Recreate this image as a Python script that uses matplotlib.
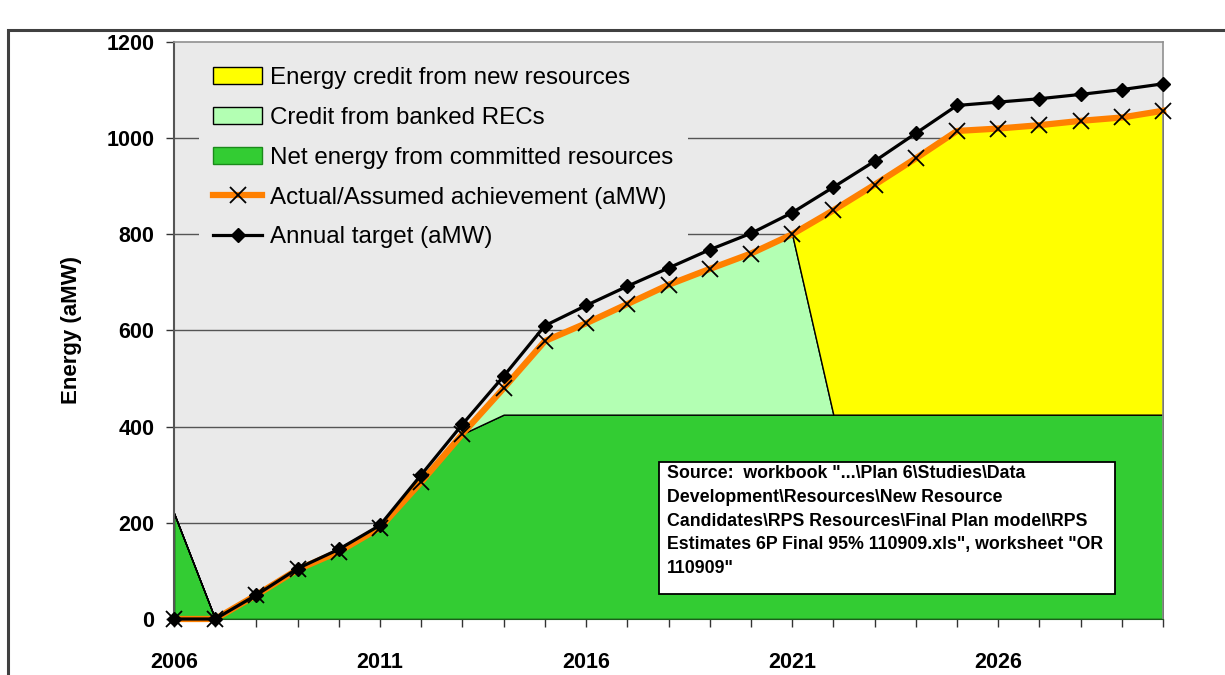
import numpy as np
import matplotlib.pyplot as plt
from matplotlib.patches import Patch, Rectangle
from matplotlib.lines import Line2D

plt.rcParams['font.family'] = ['Liberation Sans', 'DejaVu Sans']

years = np.arange(2006, 2031)

# aMW by year
committed = [220, 0, 50, 103, 140, 190, 285, 385, 425, 425, 425, 425, 425,
             425, 425, 425, 425, 425, 425, 425, 425, 425, 425, 425, 425]
banked = [0, 0, 0, 0, 0, 0, 0, 0, 55, 153, 190, 230, 270,
          303, 335, 375, 0, 0, 0, 0, 0, 0, 0, 0, 0]
new_res = [0, 0, 0, 0, 0, 0, 0, 0, 0, 0, 0, 0, 0,
           0, 0, 0, 425, 478, 533, 590, 595, 602, 611, 618, 632]
achieved = [0, 0, 50, 103, 140, 190, 285, 385, 480, 578, 615, 655, 695,
            728, 760, 800, 850, 903, 958, 1015, 1020, 1027, 1036, 1043, 1057]
target = [0, 0, 50, 105, 145, 195, 300, 405, 505, 610, 652, 692, 730,
          768, 802, 845, 898, 952, 1010, 1068, 1075, 1082, 1091, 1101, 1113]

yticks = [0, 200, 400, 600, 800, 1000, 1200]
xlabels = [2006, 2011, 2016, 2021, 2026]

c_green = '#33CC33'
c_light = '#B3FFB3'
c_yellow = '#FFFF00'
c_orange = '#FF8000'

fig = plt.figure(figsize=(12.25, 6.75), dpi=100)
ax = fig.add_axes([174 / 1225, 1 - 619 / 675, (1163 - 174) / 1225, (619 - 42) / 675])
ax.set_facecolor('#EAEAEA')

# outer chart border
fig.patches.append(Rectangle((8 / 1225, -0.1), 1.2, 1 - 30 / 675 + 0.1,
                             transform=fig.transFigure, fill=False,
                             edgecolor='#404040', linewidth=2.2, zorder=0))

for y in yticks[1:-1]:
    ax.axhline(y, color='#555555', linewidth=1.0, zorder=1)

ax.stackplot(years, committed, banked, new_res,
             colors=[c_green, c_light, c_yellow],
             edgecolor='black', linewidth=1.0, zorder=2)

ax.plot(years, achieved, color=c_orange, linewidth=4.5, zorder=4,
        marker='x', markersize=12, markeredgecolor='black',
        markeredgewidth=1.3, clip_on=False)
ax.plot(years, target, color='black', linewidth=2.3, zorder=5,
        marker='D', markersize=7, clip_on=False)

ax.set_xlim(2006, 2030)
ax.set_ylim(0, 1200)
ax.set_xticks(years)
ax.set_xticklabels([str(y) if y in xlabels else '' for y in years],
                   fontsize=15.5, fontweight='bold')
ax.set_yticks(yticks)
ax.set_yticklabels([str(y) for y in yticks], fontsize=15.5, fontweight='bold')
ax.tick_params(axis='x', length=6, width=1, pad=18, color='#333333')
ax.tick_params(axis='y', length=6, width=1, pad=8, color='#333333')
ax.set_ylabel('Energy (aMW)', fontsize=16, fontweight='bold', labelpad=18)

for side in ('top', 'right'):
    ax.spines[side].set_color('#909090')
    ax.spines[side].set_linewidth(1.2)
ax.spines['left'].set_color('#555555')
ax.spines['left'].set_linewidth(1.5)
ax.spines['bottom'].set_color('#1a5e1a')

handles = [
    Patch(facecolor=c_yellow, edgecolor='black', linewidth=1),
    Patch(facecolor=c_light, edgecolor='black', linewidth=1),
    Patch(facecolor=c_green, edgecolor='#1a8a1a', linewidth=1),
    Line2D([], [], color=c_orange, linewidth=4.5, marker='x', markersize=12,
           markeredgecolor='black', markeredgewidth=1.3),
    Line2D([], [], color='black', linewidth=2.3, marker='D', markersize=7),
]
labels = ['Energy credit from new resources', 'Credit from banked RECs',
          'Net energy from committed resources',
          'Actual/Assumed achievement (aMW)', 'Annual target (aMW)']
leg = ax.legend(handles, labels, loc='upper left', bbox_to_anchor=(0.013, 1.003),
                fontsize=17.4, frameon=True, facecolor='#EAEAEA', edgecolor='none',
                framealpha=1, fancybox=False, handlelength=2.0,
                handletextpad=0.35, labelspacing=0.74, borderpad=0.6)
leg.set_zorder(3)

# source note
bx0, by0, bx1, by1 = 659, 462, 1115, 594
fig.patches.append(Rectangle((bx0 / 1225, 1 - by1 / 675), (bx1 - bx0) / 1225,
                             (by1 - by0) / 675, transform=fig.transFigure,
                             facecolor='white', edgecolor='black',
                             linewidth=1.3, zorder=6))
source = ('Source:  workbook "...\\Plan 6\\Studies\\Data\n'
          'Development\\Resources\\New Resource\n'
          'Candidates\\RPS Resources\\Final Plan model\\RPS\n'
          'Estimates 6P Final 95% 110909.xls", worksheet "OR\n'
          '110909"')
fig.text((bx0 + 8) / 1225, 1 - (by0 + 3) / 675, source, fontsize=12.8,
         fontweight='bold', va='top', ha='left', linespacing=1.52, zorder=7)

fig.savefig('out.png', dpi=100)
